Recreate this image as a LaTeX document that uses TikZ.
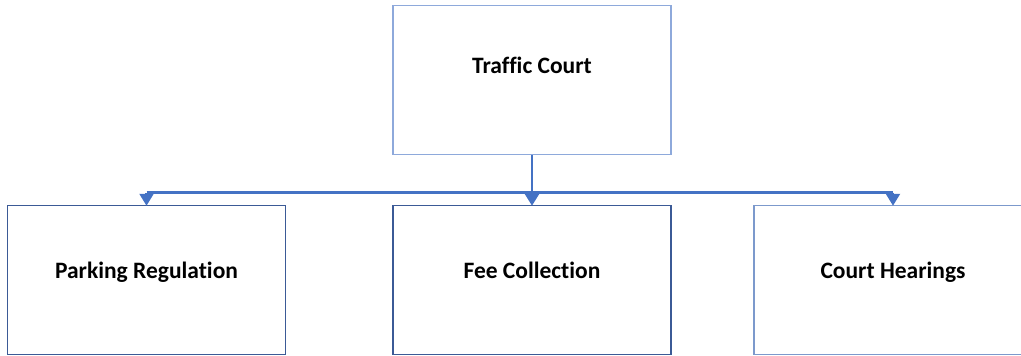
\documentclass[tikz,border=0pt]{standalone}
\usepackage{fontspec}
\setmainfont{Carlito}[Ligatures=NoCommon]
\usetikzlibrary{arrows.meta}
\definecolor{boxlight}{HTML}{8EA9DB}
\definecolor{boxdark}{HTML}{3B5A96}
\definecolor{boxmid}{HTML}{7C99CC}
\definecolor{linkblue}{HTML}{4472C4}
\tikzset{
  unitbox/.style={draw, line width=1.5pt, minimum width=278pt, minimum height=149pt, inner sep=0pt},
  unitname/.style={font=\fontsize{23.5}{28}\selectfont\bfseries, inner sep=0pt, anchor=base},
  bus/.style={draw=linkblue, line width=2.2pt},
  feed/.style={bus, -{Triangle[width=14pt, length=12pt]}, shorten >=-1pt}
}
\begin{document}
\begin{tikzpicture}[x=1pt, y=-1pt]
        \useasboundingbox (0,0) rectangle (1021,356);
        \clip (0,0) rectangle (1021,356);
        % boxes
        \node[unitbox, draw=boxlight] (court) at (532, 80) {};
        \node[unitbox, draw=boxdark] (parking) at (146.5, 280) {};
        \node[unitbox, draw=boxdark] (fee) at (532, 280) {};
        \node[unitbox, draw=boxmid] (hearings) at (893, 280) {};
        % names
        \node[unitname] (courtname) at (532, 73) {Traffic Court};
        \node[unitname] (parkingname) at (146.5, 278) {Parking Regulation};
        \node[unitname] (feename) at (532, 278) {Fee Collection};
        \node[unitname] (hearingsname) at (893, 278) {Court Hearings};
        % connectors
        \coordinate (split) at (532, 192.5);
        \draw[bus] (parking.north |- split) -- (hearings.north |- split);
        \draw[feed, line width=2.8pt] (court.south) -- (fee.north);
        \draw[feed] (parking.north |- split) -- (parking.north);
        \draw[feed] (hearings.north |- split) -- (hearings.north);
    \end{tikzpicture}
\end{document}
